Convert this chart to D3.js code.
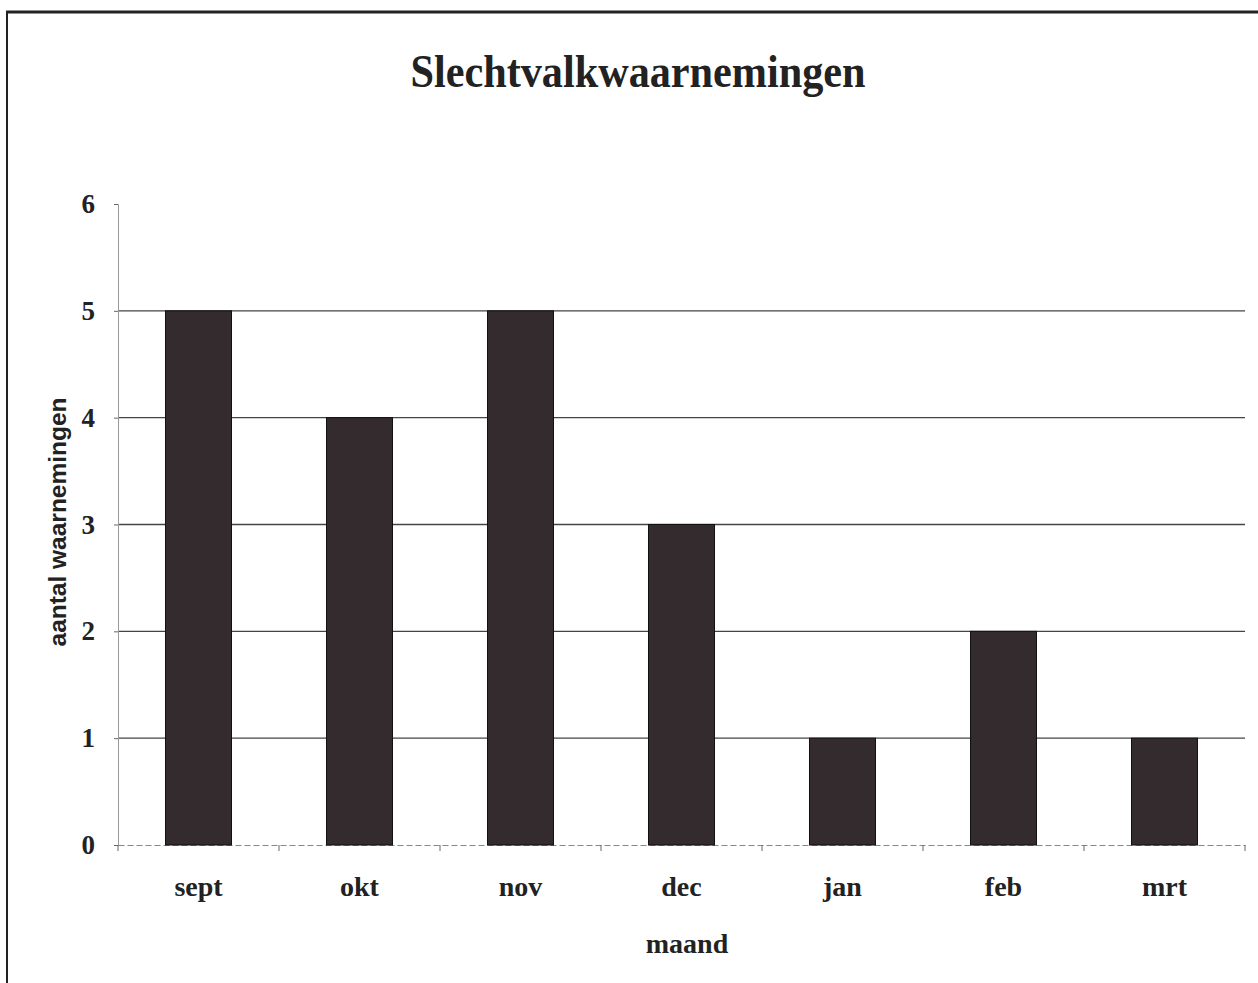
<!DOCTYPE html>
<html><head><meta charset="utf-8">
<script src="https://cdn.jsdelivr.net/npm/d3@7/dist/d3.min.js"></script>
<style>body{margin:0;background:#fff;}svg{display:block;}</style>
</head><body>
<svg id="c" width="1258" height="983"></svg>
<script>
const months = ["sept","okt","nov","dec","jan","feb","mrt"];
const counts = [5,4,5,3,1,2,1];
const yTicks = [0,1,2,3,4,5,6];
const title = "Slechtvalkwaarnemingen";
const xTitle = "maand";
const yTitle = "aantal waarnemingen";

const svg = d3.select("#c");
const m = {left:118, right:1245, top:204, bottom:845};

// frame
svg.append("line").attr("x1",6).attr("x2",1258).attr("y1",12).attr("y2",12).attr("stroke","#222").attr("stroke-width",3);
svg.append("line").attr("x1",7).attr("x2",7).attr("y1",12).attr("y2",983).attr("stroke","#222").attr("stroke-width",2);

const x = d3.scaleBand().domain(months).range([m.left,m.right]).paddingInner(0.59).paddingOuter(0.295);
const xc = d3.scaleBand().domain(months).range([m.left,m.right]);
const y = d3.scaleLinear().domain([0,6]).range([m.bottom,m.top]);

// gridlines
svg.append("g").selectAll("line").data(yTicks.filter(d=>d>0 && d<6)).join("line")
  .attr("x1",m.left).attr("x2",m.right).attr("y1",d=>y(d)).attr("y2",d=>y(d))
  .attr("stroke","#444").attr("stroke-width",1.3);

// y axis
const ya = svg.append("g").attr("transform",`translate(${m.left},0)`)
  .call(d3.axisLeft(y).tickValues(yTicks).tickSize(4).tickPadding(19).tickFormat(d3.format("d")));
ya.select(".domain").attr("stroke","#999");
ya.selectAll(".tick line").attr("stroke","#666");
ya.selectAll("text").attr("font-family","'Liberation Serif', serif").attr("font-weight","bold").attr("font-size",27).attr("fill","#222");

// x axis
const xa = svg.append("g").attr("transform",`translate(0,${m.bottom})`)
  .call(d3.axisBottom(xc).tickSize(0).tickPadding(31));
xa.select(".domain").attr("stroke","#888").attr("stroke-dasharray","6,3");
xa.selectAll("text").attr("font-family","'Liberation Serif', serif").attr("font-weight","bold").attr("font-size",28).attr("fill","#222");
// category separators ticks
svg.append("g").selectAll("line").data(months.map((d,i)=>i).concat([months.length])).join("line")
  .attr("x1",i=>m.left+i*xc.step()).attr("x2",i=>m.left+i*xc.step())
  .attr("y1",m.bottom).attr("y2",m.bottom+6).attr("stroke","#666");

// bars
svg.append("g").selectAll("rect").data(months).join("rect")
  .attr("x",d=>x(d)).attr("width",x.bandwidth())
  .attr("y",(d,i)=>y(counts[i])).attr("height",(d,i)=>y(0)-y(counts[i]))
  .attr("fill","#332b2d").attr("stroke","#111").attr("stroke-width",1);

// titles
svg.append("text").attr("x",638).attr("y",87).attr("text-anchor","middle")
  .attr("font-family","'Liberation Serif', serif").attr("font-weight","bold").attr("font-size",46)
  .attr("textLength",455).attr("lengthAdjust","spacingAndGlyphs").attr("fill","#222").text(title);
svg.append("text").attr("x",687).attr("y",953).attr("text-anchor","middle")
  .attr("font-family","'Liberation Serif', serif").attr("font-weight","bold").attr("font-size",28).attr("fill","#222").text(xTitle);
svg.append("text").attr("transform","translate(66,522) rotate(-90)").attr("text-anchor","middle")
  .attr("font-family","'Liberation Sans', Arial, sans-serif").attr("font-weight","bold").attr("font-size",23)
  .attr("textLength",249).attr("lengthAdjust","spacingAndGlyphs").attr("fill","#222").text(yTitle);
</script>
</body></html>
